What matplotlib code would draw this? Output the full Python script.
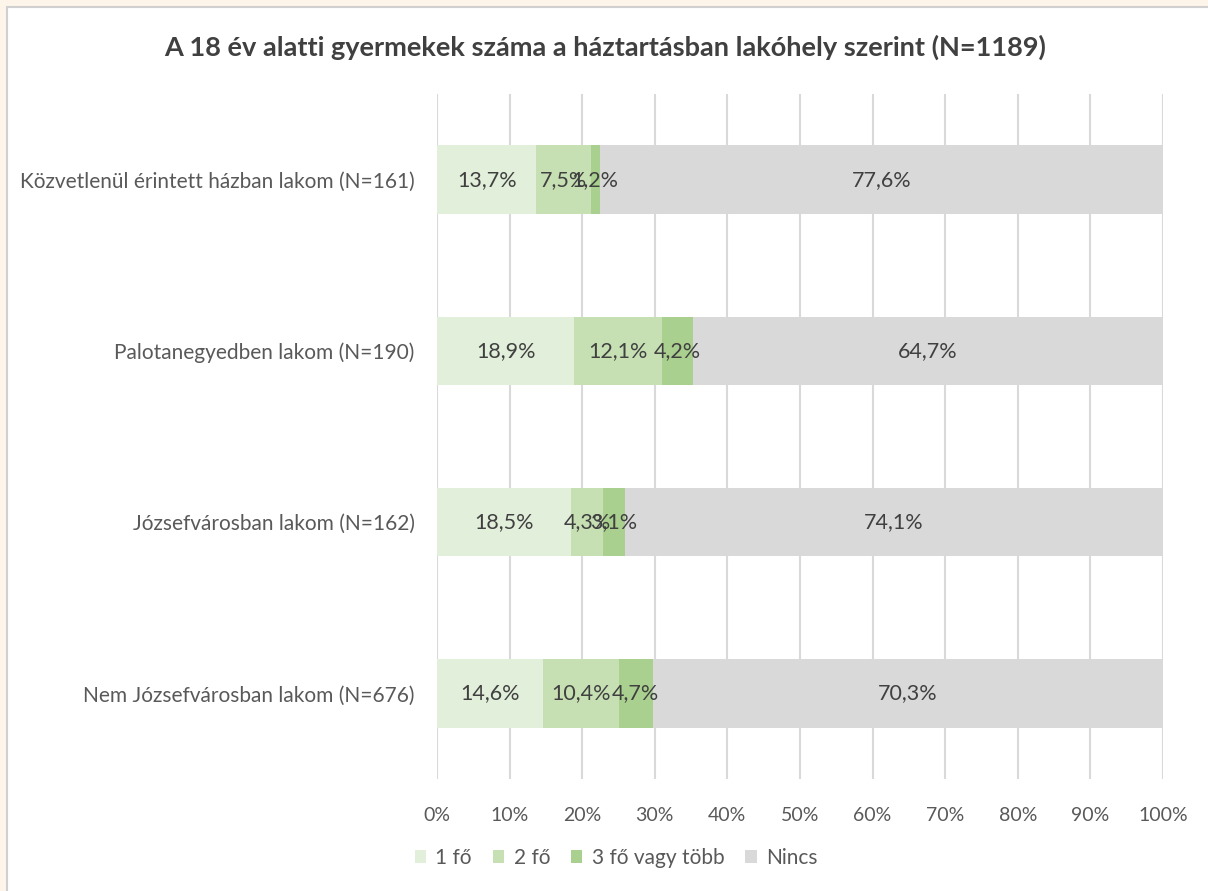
import matplotlib.pyplot as plt
from matplotlib.patches import Rectangle
import numpy as np

plt.rcParams['font.family'] = ['Lato', 'DejaVu Sans']

# Data
categories = ['Közvetlenül érintett házban lakom (N=161)',
              'Palotanegyedben lakom (N=190)',
              'Józsefvárosban lakom (N=162)',
              'Nem Józsefvárosban lakom (N=676)']
series_names = ['1 fő', '2 fő', '3 fő vagy több', 'Nincs']
one = [13.7, 18.9, 18.5, 14.6]
two = [7.5, 12.1, 4.3, 10.4]
three = [1.2, 4.2, 3.1, 4.7]
none = [77.6, 64.7, 74.1, 70.3]
colors = ['#E2EFDA', '#C6E0B4', '#A9D08E', '#D9D9D9']
txt = '#595959'

fig = plt.figure(figsize=(12.08, 8.91), dpi=100)
fig.patch.set_facecolor('#FDF4EA')
fig.patches.append(Rectangle((7 / 1208, -0.01), 1.01, 1 - 7 / 891 + 0.01,
                             transform=fig.transFigure, facecolor='white',
                             edgecolor='#D0D0D0', linewidth=1.5, zorder=-5))

ax = fig.add_axes([437 / 1208, 1 - 779 / 891, 726 / 1208, 685 / 891])
ax.set_facecolor('none')

y = np.arange(len(categories))
left = np.zeros(len(categories))
for name, vals, c in zip(series_names, [one, two, three, none], colors):
    vals = np.array(vals)
    ax.barh(y, vals, left=left, height=0.4, color=c, label=name, zorder=2)
    for yi, l, v in zip(y, left, vals):
        ax.text(l + v / 2, yi, f'{v:.1f}%'.replace('.', ','), ha='center',
                va='center', fontsize=15.5, color='#404040', zorder=3)
    left += vals

ax.set_xlim(0, 100)
ax.set_ylim(len(categories) - 0.5, -0.5)
ax.set_xticks(np.arange(0, 101, 10))
ax.set_xticklabels([f'{t}%' for t in range(0, 101, 10)], fontsize=14, color=txt)
ax.set_yticks(y)
ax.set_yticklabels(categories, fontsize=15, color=txt)
ax.tick_params(axis='x', length=0, pad=20)
ax.tick_params(axis='y', length=0, pad=16)
ax.grid(axis='x', color='#D9D9D9', linewidth=1.5, zorder=0)
for s in ax.spines.values():
    s.set_visible(False)

fig.text(605 / 1208, 1 - 47 / 891,
         'A 18 év alatti gyermekek száma a háztartásban lakóhely szerint (N=1189)',
         ha='center', va='center', fontsize=19.5, fontweight='bold', color='#404040')

ax.legend(loc='center', bbox_to_anchor=((616 - 437) / 726, -(858 - 779) / 685), ncol=4,
          frameon=False, fontsize=15, labelcolor=txt, handlelength=0.55,
          handleheight=0.55, handletextpad=0.45, columnspacing=1.0)

fig.savefig('out.png', dpi=100, facecolor=fig.get_facecolor())
